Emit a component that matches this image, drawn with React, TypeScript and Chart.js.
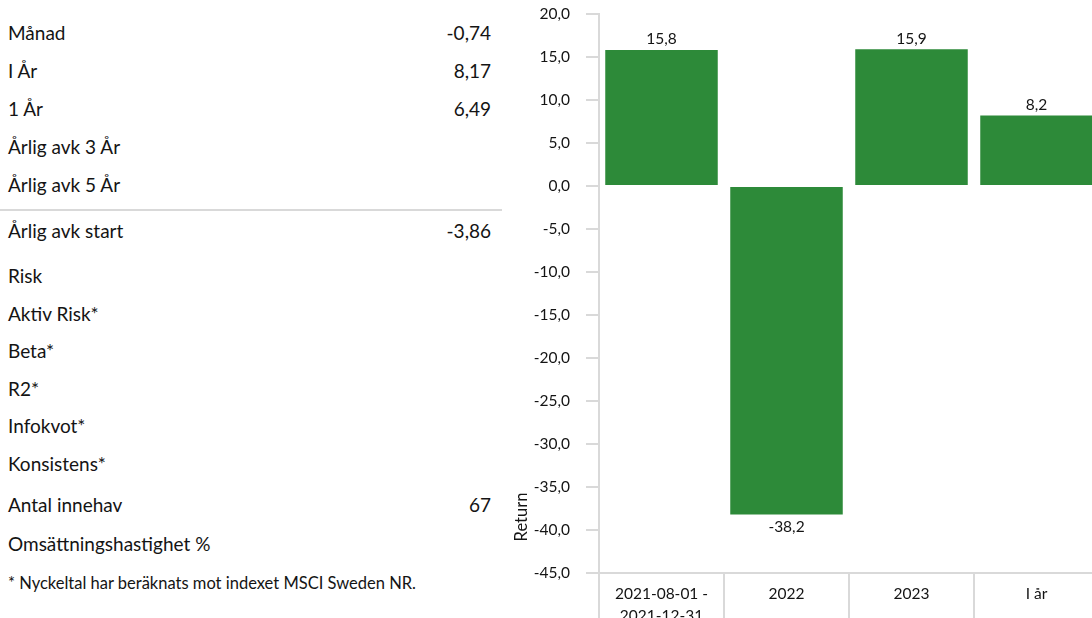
import React, { useEffect, useRef } from "react";
import { Chart, registerables } from "chart.js";

Chart.register(...registerables);

// ---- Data ----
const categories: string[][] = [["2021-08-01 -", "2021-12-31"], ["2022"], ["2023"], ["I år"]];
const returns: number[] = [15.8, -38.2, 15.9, 8.2];
const yMin = -45;
const yMax = 20;
const yStep = 5;
const axisTitle = "Return";

const periodLabels: string[] = ["Månad", "I År", "1 År", "Årlig avk 3 År", "Årlig avk 5 År"];
const periodValues: string[] = ["-0,74", "8,17", "6,49", "", ""];
const startLabels: string[] = ["Årlig avk start"];
const startValues: string[] = ["-3,86"];
const riskLabels: string[] = ["Risk", "Aktiv Risk*", "Beta*", "R2*", "Infokvot*", "Konsistens*"];
const riskValues: string[] = ["", "", "", "", "", ""];
const otherLabels: string[] = ["Antal innehav", "Omsättningshastighet %"];
const otherValues: string[] = ["67", ""];
const footnote = "* Nyckeltal har beräknats mot indexet MSCI Sweden NR.";

const FONT = "Lato, 'Open Sans', sans-serif";
const TEXT = "#141414";
const GREEN = "#2d8a39";
const GRID = "#d9d9d9";

const fmt = (v: number) => v.toFixed(1).replace(".", ",");

function Rows({ labels, values, h }: { labels: string[]; values: string[]; h: number }) {
  return (
    <div>
      {labels.map((l, i) => (
        <div
          key={l}
          style={{
            height: h,
            display: "flex",
            alignItems: "center",
            justifyContent: "space-between",
            paddingRight: 11,
          }}
        >
          <span>{l}</span>
          <span>{values[i]}</span>
        </div>
      ))}
    </div>
  );
}

export default function App() {
  const ref = useRef<HTMLCanvasElement | null>(null);

  useEffect(() => {
    if (!ref.current) return;
    const labelPlugin = {
      id: "valueLabels",
      afterDatasetsDraw(chart: any) {
        const ctx = chart.ctx;
        const meta = chart.getDatasetMeta(0);
        ctx.save();
        ctx.fillStyle = TEXT;
        ctx.font = `15.5px ${FONT}`;
        ctx.textAlign = "center";
        meta.data.forEach((bar: any, i: number) => {
          const v = returns[i];
          if (v >= 0) {
            ctx.textBaseline = "bottom";
            ctx.fillText(fmt(v), bar.x, bar.y - 3);
          } else {
            ctx.textBaseline = "top";
            ctx.fillText(fmt(v), bar.x, bar.y + 5);
          }
        });
        ctx.restore();
      },
    };
    const titlePlugin = {
      id: "axisTitle",
      afterDraw(chart: any) {
        const ctx = chart.ctx;
        const a = chart.chartArea;
        ctx.save();
        ctx.translate(a.left - 77, a.bottom - 56);
        ctx.rotate(-Math.PI / 2);
        ctx.fillStyle = TEXT;
        ctx.font = `16.5px ${FONT}`;
        ctx.textAlign = "center";
        ctx.textBaseline = "middle";
        ctx.fillText(axisTitle, 0, 0);
        ctx.restore();
      },
    };
    const chart = new Chart(ref.current, {
      type: "bar",
      data: {
        labels: categories as any,
        datasets: [
          {
            data: returns,
            backgroundColor: GREEN,
            borderWidth: 0,
            categoryPercentage: 1,
            barPercentage: 0.9,
          },
        ],
      },
      options: {
        animation: false,
        responsive: true,
        maintainAspectRatio: false,
        layout: { padding: { top: 14, right: 6, left: 0, bottom: 0 } },
        plugins: { legend: { display: false }, tooltip: { enabled: false } },
        scales: {
          x: {
            offset: true,
            grid: {
              offset: true,
              drawOnChartArea: false,
              tickLength: 60,
              color: GRID,
              lineWidth: 2,
            },
            border: { display: true, color: GRID, width: 2 },
            ticks: {
              color: TEXT,
              font: { family: FONT, size: 15.5, lineHeight: 1.4 },
              padding: -50,
              maxRotation: 0,
              autoSkip: false,
            },
            afterFit: (s: any) => {
              s.height = 67;
            },
          },
          y: {
            min: yMin,
            max: yMax,
            grid: {
              drawOnChartArea: false,
              tickLength: 13,
              color: GRID,
              lineWidth: 2,
            },
            border: { display: true, color: GRID, width: 2 },
            ticks: {
              stepSize: yStep,
              color: TEXT,
              font: { family: FONT, size: 15.5 },
              padding: 16,
              callback: (v: any) => fmt(Number(v)),
            },
            afterFit: (s: any) => {
              s.width = 94;
              s.paddingTop = 0;
              s.paddingBottom = 0;
            },
          },
        },
      },
      plugins: [labelPlugin, titlePlugin],
    });
    return () => chart.destroy();
  }, []);

  return (
    <div
      style={{
        position: "fixed",
        left: 0,
        top: 0,
        width: 1092,
        height: 618,
        overflow: "hidden",
        background: "#fff",
        fontFamily: FONT,
        color: TEXT,
      }}
    >
      <div style={{ position: "absolute", left: 8, top: 13, width: 494, fontSize: 19 }}>
        <Rows labels={periodLabels} values={periodValues} h={38} />
        <div style={{ height: 2, background: GRID, marginTop: 6, marginLeft: -8 }} />
        <Rows labels={startLabels} values={startValues} h={38} />
        <div style={{ marginTop: 8 }}>
          <Rows labels={riskLabels} values={riskValues} h={37.5} />
        </div>
        <div style={{ marginTop: 3 }}>
          <Rows labels={otherLabels} values={otherValues} h={39} />
        </div>
        <div style={{ fontSize: 16.5, height: 39, display: "flex", alignItems: "center" }}>{footnote}</div>
      </div>
      <div style={{ position: "absolute", left: 505, top: 0, width: 600, height: 640 }}>
        <canvas ref={ref} />
      </div>
    </div>
  );
}
